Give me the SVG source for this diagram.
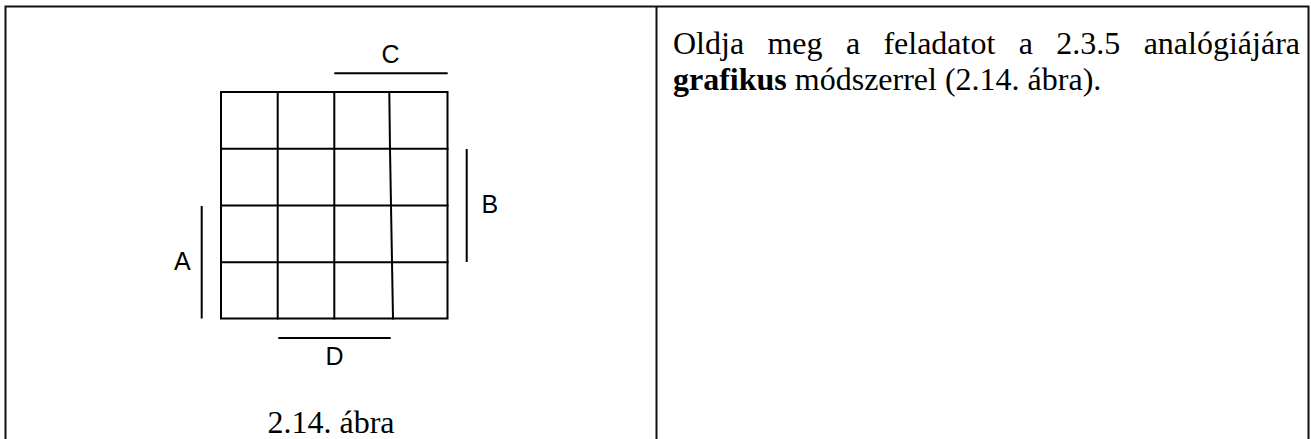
<svg xmlns="http://www.w3.org/2000/svg" width="1311" height="439" viewBox="0 0 1311 439">
<style>
.frame{stroke:#111;stroke-width:2;fill:none}
.grid{stroke:#000;stroke-width:2;fill:none;stroke-linecap:square}
.bar{stroke:#000;stroke-width:2;fill:none}
.lbl{font-family:"Liberation Sans",Arial,sans-serif;font-size:25px;fill:#000}
.serif{font-family:"Liberation Serif","Times New Roman",serif;font-size:32px;fill:#000}
</style>
<rect width="1311" height="439" fill="#fff"/>
<g id="frame">
<polyline class="frame" points="5.5,439 5.5,6.5 1308.5,6.5 1308.5,439"/>
<line class="frame" x1="656.5" y1="6.5" x2="656.5" y2="439"/>
</g>
<g id="kmap">
<rect class="grid" x="221" y="92" width="226.5" height="226.5"/>
<line class="grid" x1="221" y1="148.7" x2="447.5" y2="148.7"/>
<line class="grid" x1="221" y1="205.5" x2="447.5" y2="205.5"/>
<line class="grid" x1="221" y1="262.2" x2="447.5" y2="262.2"/>
<line class="grid" x1="277.7" y1="92" x2="277.7" y2="318.5"/>
<line class="grid" x1="334.3" y1="92" x2="334.3" y2="318.5"/>
<polyline class="grid" points="389.3,92 390,148.7 391,205.5 392,262.2 393,318.5"/>
</g>
<g id="connectors">
<line class="bar" x1="334.3" y1="73.3" x2="447.7" y2="73.3"/>
<line class="bar" x1="466.7" y1="149" x2="466.7" y2="262"/>
<line class="bar" x1="201.7" y1="206" x2="201.7" y2="318.5"/>
<line class="bar" x1="278.3" y1="338" x2="390.7" y2="338"/>
</g>
<g id="label-C"><text class="lbl" x="390.5" y="63" text-anchor="middle">C</text></g>
<g id="label-B"><text class="lbl" x="481.5" y="213">B</text></g>
<g id="label-A"><text class="lbl" x="174" y="270">A</text></g>
<g id="label-D"><text class="lbl" x="334.5" y="365" text-anchor="middle">D</text></g>
<g id="caption"><text class="serif" x="331" y="433" text-anchor="middle">2.14. ábra</text></g>
<g id="task">
<text class="serif" y="54"><tspan x="673">Oldja</tspan><tspan x="767.4">meg</tspan><tspan x="845.9">a</tspan><tspan x="883.4">feladatot</tspan><tspan x="1018.7">a</tspan><tspan x="1056.2">2.3.5</tspan><tspan x="1300" text-anchor="end">analógiájára</tspan></text>
<text class="serif" x="673" y="90"><tspan font-weight="bold">grafikus</tspan> módszerrel (2.14. ábra).</text>
</g>
</svg>
